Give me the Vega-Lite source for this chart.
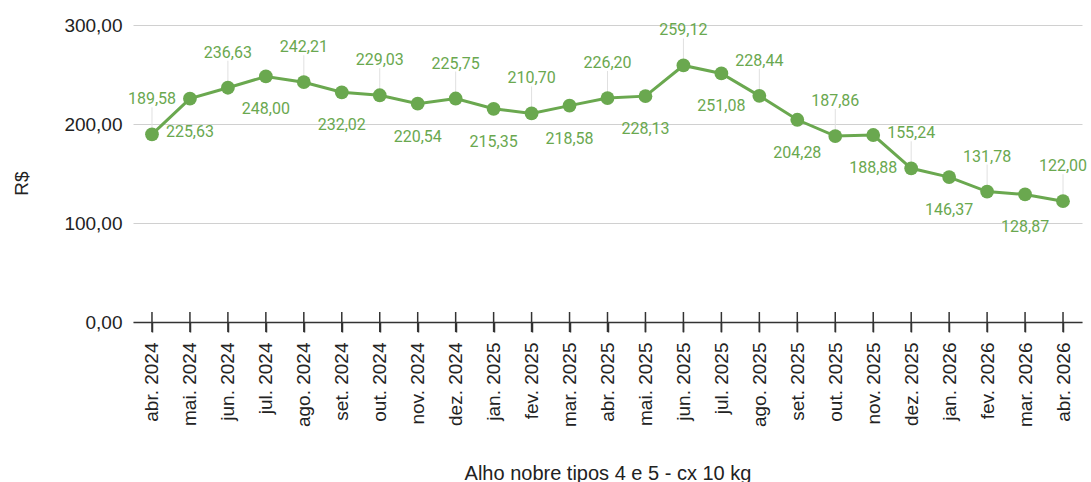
{
  "$schema": "https://vega.github.io/schema/vega-lite/v6.json",
  "autosize": {"type": "none"},
  "padding": {"left": 133, "top": 25, "right": 9, "bottom": 160},
  "width": 949,
  "height": 297,
  "background": "white",
  "config": {
    "view": {"stroke": null},
    "locale": {"number": {"decimal": ",", "thousands": ".", "grouping": [3], "currency": ["R$", ""]}}
  },
  "data": {
    "values": [
      {"mes": "abr. 2024", "preco": 189.58},
      {"mes": "mai. 2024", "preco": 225.63},
      {"mes": "jun. 2024", "preco": 236.63},
      {"mes": "jul. 2024", "preco": 248.00},
      {"mes": "ago. 2024", "preco": 242.21},
      {"mes": "set. 2024", "preco": 232.02},
      {"mes": "out. 2024", "preco": 229.03},
      {"mes": "nov. 2024", "preco": 220.54},
      {"mes": "dez. 2024", "preco": 225.75},
      {"mes": "jan. 2025", "preco": 215.35},
      {"mes": "fev. 2025", "preco": 210.70},
      {"mes": "mar. 2025", "preco": 218.58},
      {"mes": "abr. 2025", "preco": 226.20},
      {"mes": "mai. 2025", "preco": 228.13},
      {"mes": "jun. 2025", "preco": 259.12},
      {"mes": "jul. 2025", "preco": 251.08},
      {"mes": "ago. 2025", "preco": 228.44},
      {"mes": "set. 2025", "preco": 204.28},
      {"mes": "out. 2025", "preco": 187.86},
      {"mes": "nov. 2025", "preco": 188.88},
      {"mes": "dez. 2025", "preco": 155.24},
      {"mes": "jan. 2026", "preco": 146.37},
      {"mes": "fev. 2026", "preco": 131.78},
      {"mes": "mar. 2026", "preco": 128.87},
      {"mes": "abr. 2026", "preco": 122.00}
    ]
  },
  "transform": [{"window": [{"op": "row_number", "as": "i"}]}],
  "encoding": {
    "x": {
      "field": "mes",
      "type": "nominal",
      "sort": null,
      "scale": {
        "type": "point",
        "padding": 0.5,
        "domain": ["abr. 2024", "mai. 2024", "jun. 2024", "jul. 2024", "ago. 2024", "set. 2024", "out. 2024", "nov. 2024", "dez. 2024", "jan. 2025", "fev. 2025", "mar. 2025", "abr. 2025", "mai. 2025", "jun. 2025", "jul. 2025", "ago. 2025", "set. 2025", "out. 2025", "nov. 2025", "dez. 2025", "jan. 2026", "fev. 2026", "mar. 2026", "abr. 2026"]
      },
      "axis": {
        "title": "Alho nobre tipos 4 e 5 - cx 10 kg",
        "titleFont": "Liberation Sans",
        "titleFontSize": 20,
        "titleFontWeight": "normal",
        "titleColor": "#222222",
        "titleBaseline": "middle",
        "titleY": 151,
        "labelAngle": -90,
        "labelFont": "Liberation Sans",
        "labelFontSize": 19,
        "labelColor": "#222222",
        "labelPadding": 10,
        "tickSize": 10,
        "tickWidth": 1.5,
        "tickColor": "#333333",
        "domainColor": "#333333",
        "domainWidth": 1.5,
        "grid": false
      }
    }
  },
  "layer": [
    {
      "mark": {"type": "rule", "color": "#e0e0e0", "strokeWidth": 1, "y2Offset": -27},
      "transform": [{"filter": "datum.i % 2 == 1"}],
      "encoding": {
        "y": {"field": "preco", "type": "quantitative"},
        "y2": {"field": "preco"}
      }
    },
    {
      "mark": {"type": "line", "color": "#6aa84f", "strokeWidth": 3},
      "encoding": {
        "y": {
          "field": "preco",
          "type": "quantitative",
          "scale": {"domain": [0, 300]},
          "axis": {
            "title": "R$",
            "titleFont": "Liberation Sans",
            "titleFontSize": 19,
            "titleFontWeight": "normal",
            "titleColor": "#222222",
            "titleBaseline": "middle",
            "titleX": -112,
            "titleY": 158,
            "values": [0, 100, 200, 300],
            "format": ".2f",
            "labelFont": "Liberation Sans",
            "labelFontSize": 19,
            "labelColor": "#222222",
            "labelPadding": 11,
            "ticks": false,
            "tickSize": 0,
            "domain": false,
            "grid": true,
            "gridColor": "#d0d0d0",
            "gridWidth": 1
          }
        }
      }
    },
    {
      "mark": {"type": "point", "filled": true, "opacity": 1, "color": "#6aa84f", "size": 190},
      "encoding": {"y": {"field": "preco", "type": "quantitative"}}
    },
    {
      "mark": {"type": "text", "color": "#6aa84f", "font": "Roboto", "fontSize": 16, "baseline": "middle", "dy": -35},
      "transform": [{"filter": "datum.i % 2 == 1"}],
      "encoding": {
        "y": {"field": "preco", "type": "quantitative"},
        "text": {"field": "preco", "type": "quantitative", "format": ".2f"}
      }
    },
    {
      "mark": {"type": "text", "color": "#6aa84f", "font": "Roboto", "fontSize": 16, "baseline": "middle", "dy": 33},
      "transform": [{"filter": "datum.i % 2 == 0"}],
      "encoding": {
        "y": {"field": "preco", "type": "quantitative"},
        "text": {"field": "preco", "type": "quantitative", "format": ".2f"}
      }
    },
    {
      "mark": {"type": "tick", "orient": "vertical", "size": 20, "thickness": 1.5, "color": "#333333", "opacity": 1},
      "encoding": {"y": {"datum": 0, "type": "quantitative"}}
    }
  ]
}
